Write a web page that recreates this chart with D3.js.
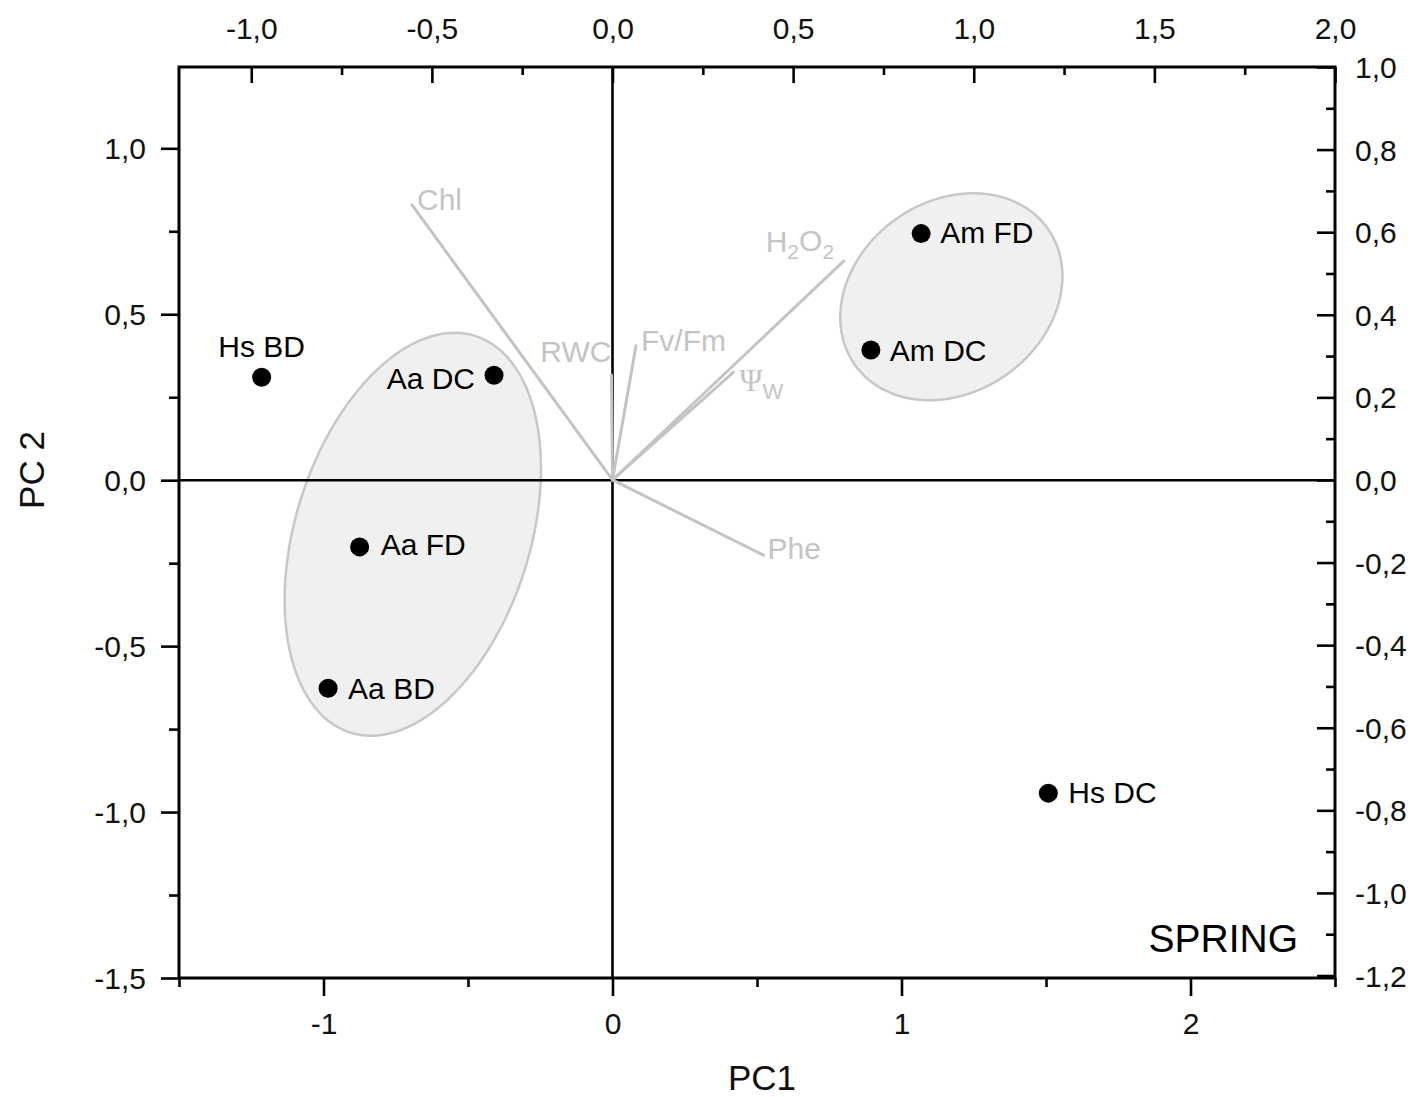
<!DOCTYPE html>
<html>
<head>
<meta charset="utf-8">
<script src="https://cdn.jsdelivr.net/npm/d3@7"></script>
<style>
  html, body { margin: 0; padding: 0; background: #fff; }
  svg { display: block; font-family: Arial, "Liberation Sans", sans-serif; }
</style>
</head>
<body>
<svg id="chart" width="1415" height="1097"></svg>
<script>
// ---------- DATA ----------
// Sample scores (bottom / left axes: PC1, PC2)
const sampleNames = ["Hs BD", "Aa DC", "Aa FD", "Aa BD", "Am FD", "Am DC", "Hs DC"];
const samplePC1   = [-1.214, -0.410, -0.875, -0.984, 1.068, 0.894, 1.508];
const samplePC2   = [ 0.310,  0.316, -0.201, -0.627, 0.743, 0.392, -0.943];

// Variable loadings (top / right axes)
const loadingNames = ["Chl", "RWC", "Fv/Fm", "H2O2", "Psiw", "Phe"];
const loadingX     = [-0.555, -0.003, 0.065, 0.640, 0.335, 0.418];
const loadingY     = [ 0.666,  0.254, 0.325, 0.530, 0.261, -0.182];

// Group ellipses (data units: centre, semi-axis vectors)
const ellipseNames = ["Aa", "Am"];
const ellipseCenter = [[-0.691, -0.163], [1.1725, 0.5527]];
const ellipseAxisU  = [[0.215, 0.598], [0.3336, 0.2054]];
const ellipseAxisV  = [[0.388, -0.105], [0.1909, -0.2346]];

// Axis ticks
const bottomTicks = [-1, 0, 1, 2];
const bottomMinor = [-1.5, -0.5, 0.5, 1.5, 2.5];
const leftTicks   = [-1.5, -1.0, -0.5, 0.0, 0.5, 1.0];
const leftMinor   = [-1.25, -0.75, -0.25, 0.25, 0.75];
const topTicks    = [-1.0, -0.5, 0.0, 0.5, 1.0, 1.5, 2.0];
const topMinor    = [-0.75, -0.25, 0.25, 0.75, 1.25, 1.75];
const rightTicks  = [-1.2, -1.0, -0.8, -0.6, -0.4, -0.2, 0.0, 0.2, 0.4, 0.6, 0.8, 1.0];
const rightMinor  = [-1.1, -0.9, -0.7, -0.5, -0.3, -0.1, 0.1, 0.3, 0.5, 0.7, 0.9];

const xTitle = "PC1";
const yTitle = "PC 2";
const panelLabel = "SPRING";

// ---------- LAYOUT / STYLE ----------
const L = 179, R = 1335, T = 67, B = 978;
const svg = d3.select("#chart");

const x  = d3.scaleLinear([-1.5, 2.5], [L, R]);
const y  = d3.scaleLinear([-1.5, 1.245], [B, T]);
const xT = d3.scaleLinear([-1.2, 2.0], [L, R]);
const yR = d3.scaleLinear([-1.206, 1.0], [B, T]);

const comma = d => d3.format(".1f")(d).replace(".", ",").replace("\u2212", "-");
const intFmt = d => d3.format("d")(d).replace("\u2212", "-");
const gray = "#c4c4c4";

// label placement (pixel offsets, style only)
const sampleLabelPlace = {
  "Hs BD": {anchor: "middle", dx: 0, dy: -31},
  "Aa DC": {anchor: "end", dx: -19, dy: 3},
  "Aa FD": {anchor: "start", dx: 21, dy: -2},
  "Aa BD": {anchor: "start", dx: 20, dy: 0},
  "Am FD": {anchor: "start", dx: 19, dy: -1},
  "Am DC": {anchor: "start", dx: 19, dy: 0},
  "Hs DC": {anchor: "start", dx: 20, dy: -1}
};
const loadingLabelPlace = {
  "Chl":   {anchor: "start", dx: 5, dy: -5},
  "RWC":   {anchor: "end", dx: 0, dy: -24},
  "Fv/Fm": {anchor: "start", dx: 5, dy: -5},
  "H2O2":  {anchor: "start", dx: -78, dy: -20},
  "Psiw":  {anchor: "start", dx: 6, dy: 8},
  "Phe":   {anchor: "start", dx: 4, dy: -7}
};

// ---------- ELLIPSES ----------
const tSteps = d3.range(0, 360, 3).map(d => d * Math.PI / 180);
const line = d3.line().x(d => x(d[0])).y(d => y(d[1])).curve(d3.curveLinearClosed);
ellipseNames.forEach((n, i) => {
  const c = ellipseCenter[i], u = ellipseAxisU[i], v = ellipseAxisV[i];
  const pts = tSteps.map(t => [
    c[0] + u[0] * Math.cos(t) + v[0] * Math.sin(t),
    c[1] + u[1] * Math.cos(t) + v[1] * Math.sin(t)
  ]);
  svg.append("path").attr("d", line(pts))
    .attr("fill", "#f0f0f0").attr("stroke", "#c8c8c8").attr("stroke-width", 2.5);
});

// ---------- CROSSHAIR ----------
svg.append("line").attr("x1", x(0)).attr("x2", x(0)).attr("y1", T).attr("y2", B)
  .attr("stroke", "#000").attr("stroke-width", 2.6);
svg.append("line").attr("x1", L).attr("x2", R).attr("y1", y(0)).attr("y2", y(0))
  .attr("stroke", "#000").attr("stroke-width", 2.6);

// ---------- AXES ----------
function styleAxis(g) {
  g.select(".domain").remove();
  g.selectAll("line").attr("stroke", "#000").attr("stroke-width", 2.6);
  g.selectAll("text").attr("font-size", 30).attr("fill", "#111")
    .attr("font-family", "Arial, 'Liberation Sans', sans-serif");
}
// bottom
const gB = svg.append("g").attr("transform", `translate(0,${B})`)
  .call(d3.axisBottom(x).tickValues(bottomTicks).tickSize(18).tickFormat(intFmt));
styleAxis(gB);
gB.selectAll("text").attr("y", 45).attr("dy", "0.35em");
svg.append("g").attr("transform", `translate(0,${B})`)
  .call(d3.axisBottom(x).tickValues(bottomMinor).tickSize(9).tickFormat(""))
  .call(styleAxis);
// left
const gL = svg.append("g").attr("transform", `translate(${L},0)`)
  .call(d3.axisLeft(y).tickValues(leftTicks).tickSize(18).tickFormat(comma));
styleAxis(gL);
gL.selectAll("text").attr("x", -33).attr("dy", "0.35em");
svg.append("g").attr("transform", `translate(${L},0)`)
  .call(d3.axisLeft(y).tickValues(leftMinor).tickSize(10).tickFormat(""))
  .call(styleAxis);
// top (inward ticks)
const gT = svg.append("g").attr("transform", `translate(0,${T})`)
  .call(d3.axisTop(xT).tickValues(topTicks).tickSize(-16).tickFormat(comma));
styleAxis(gT);
gT.selectAll("text").attr("y", -39).attr("dy", "0.35em");
svg.append("g").attr("transform", `translate(0,${T})`)
  .call(d3.axisTop(xT).tickValues(topMinor).tickSize(-8).tickFormat(""))
  .call(styleAxis);
// right (inward ticks)
const gR = svg.append("g").attr("transform", `translate(${R},0)`)
  .call(d3.axisRight(yR).tickValues(rightTicks).tickSize(-18).tickFormat(comma));
styleAxis(gR);
gR.selectAll("text").attr("x", 20).attr("dy", "0.35em").attr("text-anchor", "start");
svg.append("g").attr("transform", `translate(${R},0)`)
  .call(d3.axisRight(yR).tickValues(rightMinor).tickSize(-9).tickFormat(""))
  .call(styleAxis);

// frame
svg.append("rect").attr("x", L).attr("y", T).attr("width", R - L).attr("height", B - T)
  .attr("fill", "none").attr("stroke", "#000").attr("stroke-width", 3);

// ---------- LOADINGS ----------
const gLoad = svg.append("g");
loadingNames.forEach((n, i) => {
  gLoad.append("line")
    .attr("x1", xT(0)).attr("y1", yR(0))
    .attr("x2", xT(loadingX[i])).attr("y2", yR(loadingY[i]))
    .attr("stroke", gray).attr("stroke-width", 3).attr("stroke-linecap", "round");
  const p = loadingLabelPlace[n];
  const t = gLoad.append("text")
    .attr("x", xT(loadingX[i]) + p.dx).attr("y", yR(loadingY[i]) + p.dy)
    .attr("dy", "0.35em").attr("text-anchor", p.anchor)
    .attr("font-size", 30).attr("fill", gray);
  if (n === "H2O2") {
    t.append("tspan").text("H");
    t.append("tspan").attr("font-size", 21).attr("dy", "0.35em").text("2");
    t.append("tspan").attr("dy", "-0.25em").text("O");
    t.append("tspan").attr("font-size", 21).attr("dy", "0.35em").text("2");
  } else if (n === "Psiw") {
    t.append("tspan").attr("font-family", "'Liberation Serif', 'DejaVu Serif', serif")
      .attr("font-size", 31).text("Ψ");
    t.append("tspan").attr("font-size", 22).attr("dy", "0.4em").text("W");
  } else {
    t.text(n);
  }
});

// ---------- SAMPLES ----------
const gS = svg.append("g");
sampleNames.forEach((n, i) => {
  gS.append("circle").attr("cx", x(samplePC1[i])).attr("cy", y(samplePC2[i]))
    .attr("r", 9.5).attr("fill", "#000");
  const p = sampleLabelPlace[n];
  gS.append("text")
    .attr("x", x(samplePC1[i]) + p.dx).attr("y", y(samplePC2[i]) + p.dy)
    .attr("dy", "0.35em").attr("text-anchor", p.anchor)
    .attr("font-size", 30).attr("fill", "#000").text(n);
});

// ---------- TITLES ----------
svg.append("text").attr("x", 762).attr("y", 1078).attr("dy", "0.35em")
  .attr("text-anchor", "middle").attr("font-size", 35).attr("fill", "#111").text(xTitle);
svg.append("text").attr("transform", "translate(32,470) rotate(-90)").attr("dy", "0.35em")
  .attr("text-anchor", "middle").attr("font-size", 35).attr("fill", "#111").text(yTitle);
svg.append("text").attr("x", 1298).attr("y", 938).attr("dy", "0.35em")
  .attr("text-anchor", "end").attr("font-size", 39).attr("fill", "#000").text(panelLabel);
</script>
</body>
</html>
